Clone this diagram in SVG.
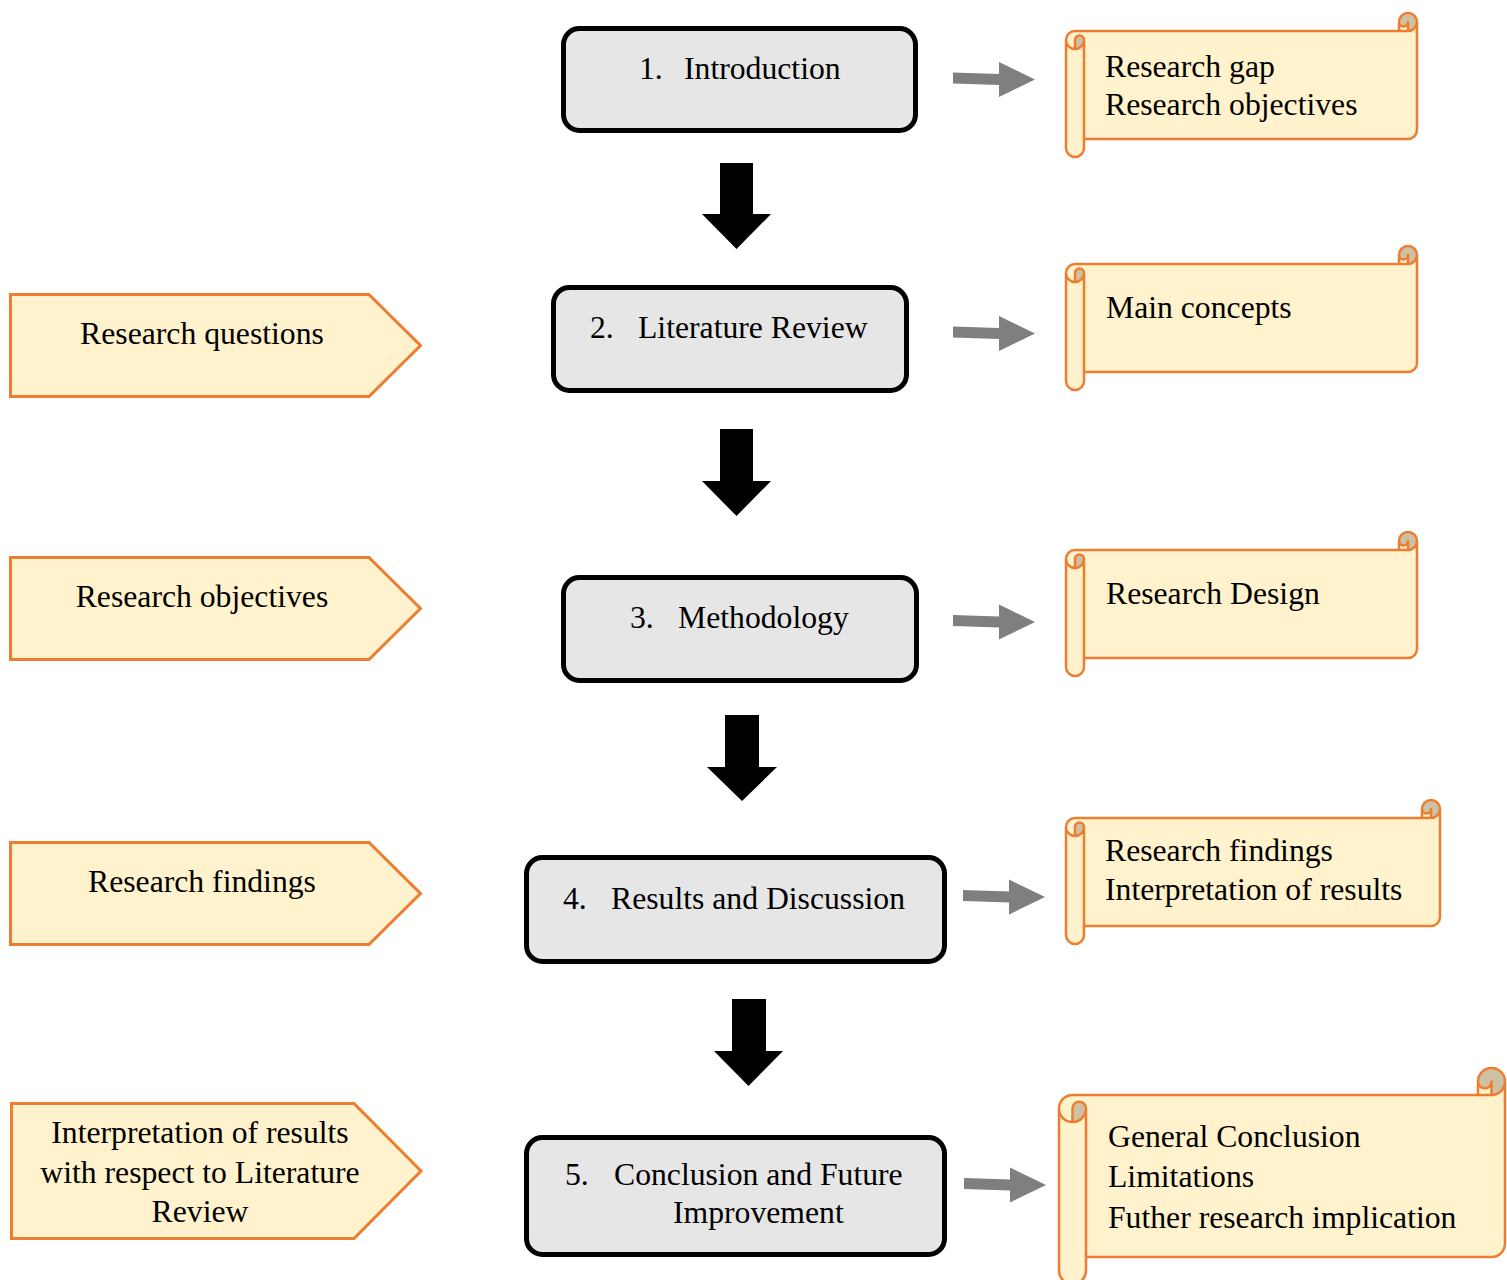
<svg xmlns="http://www.w3.org/2000/svg" xmlns:xlink="http://www.w3.org/1999/xlink" width="1507" height="1280" viewBox="0 0 1507 1280">
<style>
text { font-family: "Liberation Serif", "Times New Roman", serif; font-size: 31.7px; fill: #000; }
.box { fill: #e6e6e6; stroke: #000; stroke-width: 5; }
.pent { fill: #fff2cc; stroke: #ed7d31; stroke-width: 3; stroke-linejoin: miter; }
.sfill { fill: #fff2cc; stroke: none; }
.sdark { fill: #ccc2a3; stroke: none; }
.sline { fill: none; stroke: #ed7d31; stroke-width: 2.5; stroke-linejoin: round; stroke-linecap: round; }
.mid { text-anchor: middle; }
.blk { fill: #000; }
.gry { fill: #7f7f7f; }
</style>
<defs>
  <g id="scrollA">
    <path class="sfill" d="M351,9 A9,9 0 0 1 342,18 L342,9 A4.5,4.5 0 0 1 333,9 L333,18 L9,18 A9,9 0 0 0 0,27 L0,135 A9,9 0 0 0 18,135 L18,126 L342,126 A9,9 0 0 0 351,117 Z"/>
    <path class="sdark" d="M9,36 A9,9 0 0 0 18,27 A4.5,4.5 0 0 0 9,27 Z M342,18 A9,9 0 1 0 333,9 A4.5,4.5 0 0 0 342,9 Z"/>
    <path class="sline" d="M0,27 A9,9 0 0 1 9,18 L333,18 L333,9 A9,9 0 0 1 351,9 L351,117 A9,9 0 0 1 342,126 L18,126 L18,135 A9,9 0 0 1 0,135 Z M333,18 L342,18 A9,9 0 0 0 351,9 M342,18 L342,9 A4.5,4.5 0 0 1 333,9 M9,36 L9,27 A4.5,4.5 0 0 1 18,27 A9,9 0 0 1 0,27 M18,27 L18,126"/>
  </g>
  <path id="garrow" d="M0,-7 L46,-5.5 L46,-17.5 L82,0 L46,17.5 L46,5.5 L0,4 Z"/>
</defs>

<g id="connectors">
  <polygon class="blk" points="720,163 753,163 753,214 771,214 736.5,249 702,214 720,214"/>
  <polygon class="blk" points="720,429 753,429 753,481 771,481 736.5,516 702,481 720,481"/>
  <polygon class="blk" points="725,715 759,715 759,767 777,767 742,801 707,767 725,767"/>
  <polygon class="blk" points="732,999 766,999 766,1051 783,1051 748.5,1086 714,1051 732,1051"/>
  <use xlink:href="#garrow" href="#garrow" class="gry" transform="translate(953,79.5)"/>
  <use xlink:href="#garrow" href="#garrow" class="gry" transform="translate(953,333.5)"/>
  <use xlink:href="#garrow" href="#garrow" class="gry" transform="translate(953,622)"/>
  <use xlink:href="#garrow" href="#garrow" class="gry" transform="translate(963,897)"/>
  <use xlink:href="#garrow" href="#garrow" class="gry" transform="translate(964,1185)"/>
</g>

<g id="box1">
  <rect class="box" x="563.5" y="28.5" width="352" height="102" rx="16"/>
  <text y="79"><tspan x="639">1.</tspan><tspan x="684">Introduction</tspan></text>
</g>
<g id="box2">
  <rect class="box" x="553.5" y="287.5" width="353" height="103" rx="16"/>
  <text y="338"><tspan x="590">2.</tspan><tspan x="638">Literature Review</tspan></text>
</g>
<g id="box3">
  <rect class="box" x="563.5" y="577.5" width="353" height="103" rx="16"/>
  <text y="628"><tspan x="630">3.</tspan><tspan x="678">Methodology</tspan></text>
</g>
<g id="box4">
  <rect class="box" x="526.5" y="857.5" width="418" height="104" rx="16"/>
  <text y="909"><tspan x="563">4.</tspan><tspan x="611">Results and Discussion</tspan></text>
</g>
<g id="box5">
  <rect class="box" x="526.5" y="1137.5" width="418" height="117" rx="16"/>
  <text y="1185"><tspan x="565">5.</tspan><tspan x="614">Conclusion and Future</tspan></text>
  <text x="673" y="1223">Improvement</text>
</g>

<g id="left1">
  <polygon class="pent" points="10.5,294.5 369,294.5 420.5,345.5 369,396.5 10.5,396.5"/>
  <text class="mid" x="202" y="344">Research questions</text>
</g>
<g id="left2">
  <polygon class="pent" points="10.5,557.5 369,557.5 420.5,608.5 369,659.5 10.5,659.5"/>
  <text class="mid" x="202" y="607">Research objectives</text>
</g>
<g id="left3">
  <polygon class="pent" points="10.5,842.5 369,842.5 420.5,893.5 369,944.5 10.5,944.5"/>
  <text class="mid" x="202" y="892">Research findings</text>
</g>
<g id="left4">
  <polygon class="pent" points="11.5,1103.5 354,1103.5 421,1171 354,1238.5 11.5,1238.5"/>
  <text class="mid" x="200" y="1143">Interpretation of results</text>
  <text class="mid" x="200" y="1183">with respect to Literature</text>
  <text class="mid" x="200" y="1222">Review</text>
</g>

<g id="right1">
  <use xlink:href="#scrollA" href="#scrollA" transform="translate(1066,13)"/>
  <text x="1105" y="77">Research gap</text>
  <text x="1105" y="115">Research objectives</text>
</g>
<g id="right2">
  <use xlink:href="#scrollA" href="#scrollA" transform="translate(1066,246)"/>
  <text x="1106" y="318">Main concepts</text>
</g>
<g id="right3">
  <use xlink:href="#scrollA" href="#scrollA" transform="translate(1066,532)"/>
  <text x="1106" y="604">Research Design</text>
</g>
<g id="right4" transform="translate(1066,800)">
  <path class="sfill" d="M374,9 A9,9 0 0 1 365,18 L365,9 A4.5,4.5 0 0 1 356,9 L356,18 L9,18 A9,9 0 0 0 0,27 L0,135 A9,9 0 0 0 18,135 L18,126 L365,126 A9,9 0 0 0 374,117 Z"/>
  <path class="sdark" d="M9,36 A9,9 0 0 0 18,27 A4.5,4.5 0 0 0 9,27 Z M365,18 A9,9 0 1 0 356,9 A4.5,4.5 0 0 0 365,9 Z"/>
  <path class="sline" d="M0,27 A9,9 0 0 1 9,18 L356,18 L356,9 A9,9 0 0 1 374,9 L374,117 A9,9 0 0 1 365,126 L18,126 L18,135 A9,9 0 0 1 0,135 Z M356,18 L365,18 A9,9 0 0 0 374,9 M365,18 L365,9 A4.5,4.5 0 0 1 356,9 M9,36 L9,27 A4.5,4.5 0 0 1 18,27 A9,9 0 0 1 0,27 M18,27 L18,126"/>
  <text x="39" y="61">Research findings</text>
  <text x="39" y="100">Interpretation of results</text>
</g>
<g id="right5" transform="translate(1059,1068)">
  <path class="sfill" d="M446,13.5 A13.5,13.5 0 0 1 432.5,27 L432.5,13.5 A6.75,6.75 0 0 1 419,13.5 L419,27 L13.5,27 A13.5,13.5 0 0 0 0,40.5 L0,202.5 A13.5,13.5 0 0 0 27,202.5 L27,189 L432.5,189 A13.5,13.5 0 0 0 446,175.5 Z"/>
  <path class="sdark" d="M13.5,54 A13.5,13.5 0 0 0 27,40.5 A6.75,6.75 0 0 0 13.5,40.5 Z M432.5,27 A13.5,13.5 0 1 0 419,13.5 A6.75,6.75 0 0 0 432.5,13.5 Z"/>
  <path class="sline" d="M0,40.5 A13.5,13.5 0 0 1 13.5,27 L419,27 L419,13.5 A13.5,13.5 0 0 1 446,13.5 L446,175.5 A13.5,13.5 0 0 1 432.5,189 L27,189 L27,202.5 A13.5,13.5 0 0 1 0,202.5 Z M419,27 L432.5,27 A13.5,13.5 0 0 0 446,13.5 M432.5,27 L432.5,13.5 A6.75,6.75 0 0 1 419,13.5 M13.5,54 L13.5,40.5 A6.75,6.75 0 0 1 27,40.5 A13.5,13.5 0 0 1 0,40.5 M27,40.5 L27,189"/>
  <text x="49" y="79">General Conclusion</text>
  <text x="49" y="119">Limitations</text>
  <text x="49" y="160">Futher research implication</text>
</g>
</svg>
